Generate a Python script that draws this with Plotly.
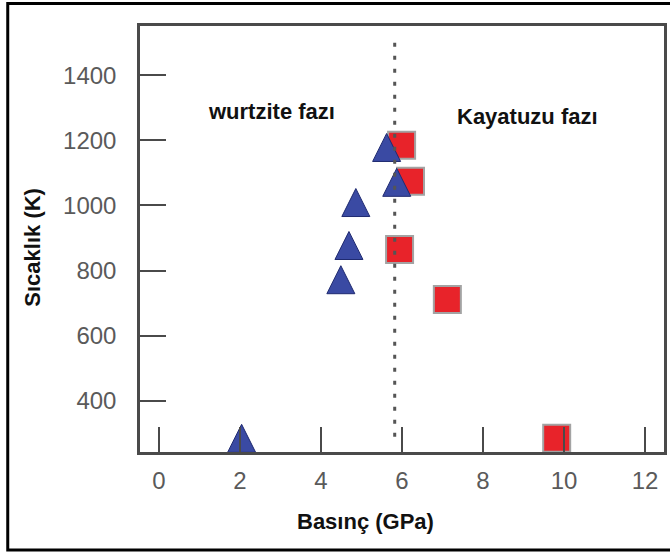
import plotly.graph_objects as go

# Data
wurtzite_p = [2.04, 4.49, 4.69, 4.86, 5.62, 5.87]          # GPa
wurtzite_t = [285, 772, 877, 1009, 1178, 1071]             # K
rocksalt_p = [5.94, 5.99, 6.21, 7.12, 9.82]                # GPa
rocksalt_t = [865, 1185, 1074, 711, 285]                   # K
boundary_p = 5.82
boundary_t = [290, 1500]
x_ticks = [0, 2, 4, 6, 8, 10, 12]
y_ticks = [400, 600, 800, 1000, 1200, 1400]

TRI = 28

fig = go.Figure()
fig.add_trace(go.Scatter(
    x=rocksalt_p, y=rocksalt_t, mode="markers", name="Kayatuzu",
    marker=dict(symbol="square", size=27, color="#e8232a",
                line=dict(color="#a3a3a3", width=2)),
    showlegend=False, hoverinfo="x+y"))
fig.add_trace(go.Scatter(
    x=wurtzite_p, y=wurtzite_t, mode="markers", name="wurtzite",
    marker=dict(symbol="arrow-down", angle=180, standoff=TRI / 2, size=TRI,
                color="#3a4aa3", line=dict(color="#1f2a70", width=1)),
    showlegend=False, hoverinfo="x+y"))

fig.add_shape(type="line", xref="x", yref="y",
              x0=boundary_p, x1=boundary_p, y0=boundary_t[0], y1=boundary_t[1],
              line=dict(color="#555555", width=3, dash="4px,9px"))

# outer black frame of the picture (right side falls outside the picture)
fig.add_shape(type="rect", xref="paper", yref="paper",
              x0=-0.2524, x1=1.05, y0=-0.2300, y1=1.0528,
              line=dict(color="black", width=3), layer="above")

bold = dict(family="Liberation Sans, Arial, sans-serif", size=22, color="#111111")
fig.add_annotation(x=2.77, y=1289, xref="x", yref="y", text="<b>wurtzite fazı</b>",
                   showarrow=False, font=bold, xanchor="center", yanchor="middle")
fig.add_annotation(x=9.10, y=1274, xref="x", yref="y", text="<b>Kayatuzu fazı</b>",
                   showarrow=False, font=bold, xanchor="center", yanchor="middle")
fig.add_annotation(x=0.4307, y=-0.1643, xref="paper", yref="paper",
                   text="<b>Basınç (GPa)</b>", showarrow=False, font=bold,
                   xanchor="center", yanchor="middle")
fig.add_annotation(x=-0.205, y=0.481, xref="paper", yref="paper",
                   text="<b>Sıcaklık (K)</b>", showarrow=False, font=bold,
                   textangle=-90, xanchor="center", yanchor="middle")

tickfont = dict(family="Liberation Sans, Arial, sans-serif", size=24, color="#5a5a5a")
fig.update_xaxes(range=[-0.47, 12.47], tickvals=x_ticks, ticktext=[str(v) for v in x_ticks],
                 ticks="inside", ticklen=25, tickwidth=2, tickcolor="#4a4a4a",
                 showline=True, linecolor="#4a4a4a", linewidth=2.5, mirror=True,
                 showgrid=False, zeroline=False, tickfont=tickfont, ticklabelstandoff=5)
fig.update_yaxes(range=[243, 1551], tickvals=y_ticks, ticktext=[str(v) for v in y_ticks],
                 ticks="inside", ticklen=26, tickwidth=2, tickcolor="#4a4a4a",
                 showline=True, linecolor="#4a4a4a", linewidth=2.5, mirror=True,
                 showgrid=False, zeroline=False, tickfont=tickfont, ticklabelstandoff=16)

fig.update_layout(width=670, height=554, margin=dict(l=140, r=3, t=26, b=102),
                  paper_bgcolor="white", plot_bgcolor="white", showlegend=False)

fig.write_html("out.html")
